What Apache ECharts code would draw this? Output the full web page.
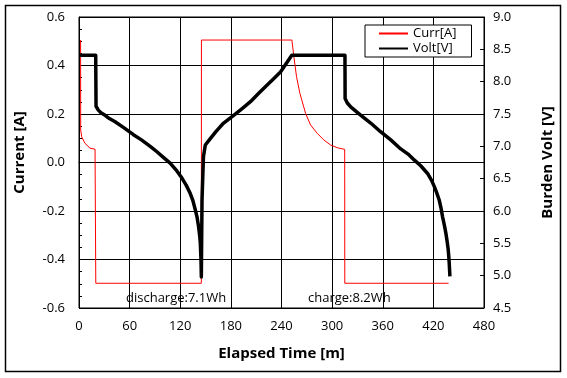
<!DOCTYPE html>
<html>
<head>
<meta charset="utf-8">
<script src="https://cdn.jsdelivr.net/npm/echarts@6/dist/echarts.min.js"></script>
<style>html,body{margin:0;padding:0;background:#fff}#c{width:567px;height:378px}</style>
</head>
<body>
<div id="c"></div>
<script>
// Current [A] series
var currTime = [1.9, 2.0, 3.2, 7.1, 13.1, 19.0, 19.8, 19.9, 145.0, 145.1, 252.3, 254.7, 257.8, 261.8, 268.5, 274.4, 282.4, 290.2, 298.2, 306.1, 314.9, 315.0, 438.0];
var currVals = [0.505, 0.134, 0.106, 0.079, 0.059, 0.055, 0.054, -0.498, -0.498, 0.505, 0.505, 0.436, 0.354, 0.285, 0.203, 0.155, 0.120, 0.093, 0.072, 0.061, 0.054, -0.498, -0.498];
// Burden Volt [V] series
var voltTime = [0, 19.8, 20.2, 21.0, 22.9, 26.0, 30.9, 36.0, 42.8, 53.0, 64.5, 74.0, 84.4, 92.0, 100.0, 108.0, 116.0, 122.0, 127.0, 131.9, 135.0, 137.8, 140.0, 141.7, 143.0, 143.8, 144.6, 145.0,
                145.8, 147.5, 149.7, 155.6, 163.0, 171.4, 183.3, 193.0, 203.2, 213.0, 223.0, 231.0, 238.8, 245.0, 252.2,
                315.2, 315.4, 318.0, 322.0, 333.0, 345.7, 357.0, 369.5, 381.3, 390.0, 397.2, 405.0, 413.1, 418.0, 421.0, 424.0, 426.9, 429.0, 430.9, 433.0, 434.9, 436.4, 437.6, 438.3, 438.8, 439.2, 439.6];
var voltVals = [8.41, 8.41, 7.62, 7.59, 7.56, 7.52, 7.48, 7.43, 7.38, 7.29, 7.18, 7.10, 7.00, 6.92, 6.83, 6.74, 6.62, 6.51, 6.40, 6.27, 6.16, 6.02, 5.90, 5.76, 5.62, 5.50, 5.24, 4.98,
                6.17, 6.84, 7.02, 7.12, 7.24, 7.36, 7.48, 7.58, 7.69, 7.82, 7.95, 8.05, 8.15, 8.27, 8.41,
                8.41, 7.74, 7.67, 7.61, 7.49, 7.36, 7.23, 7.10, 6.96, 6.88, 6.79, 6.70, 6.58, 6.47, 6.38, 6.28, 6.17, 6.05, 5.91, 5.78, 5.65, 5.52, 5.40, 5.29, 5.19, 5.09, 4.99];
var xTicks = {min: 0, max: 480, interval: 60};
var energyNotes = ['discharge:7.1Wh', 'charge:8.2Wh'];

function pairs(t, v) { return t.map(function (x, i) { return [x, v[i]]; }); }

var FONT = 'Open Sans';
var chart = echarts.init(document.getElementById('c'), null, {renderer: 'canvas'});
chart.setOption({
  animation: false,
  backgroundColor: '#fff',
  textStyle: {fontFamily: FONT},
  grid: {left: 79, right: 83, top: 17, bottom: 70, show: true, borderColor: '#000', borderWidth: 1, containLabel: false},
  legend: {
    orient: 'vertical', left: 365, top: 25,
    backgroundColor: '#fff', borderColor: '#000', borderWidth: 1,
    padding: [2, 15, 2, 13], itemWidth: 29, itemHeight: 10, itemGap: 2,
    itemStyle: {opacity: 0},
    textStyle: {fontFamily: FONT, fontSize: 13, color: '#000'},
    data: ['Curr[A]', 'Volt[V]']
  },
  xAxis: {
    type: 'value', min: xTicks.min, max: xTicks.max, interval: xTicks.interval,
    name: 'Elapsed Time [m]', nameLocation: 'middle', nameGap: 38,
    nameTextStyle: {fontFamily: FONT, fontSize: 15, fontWeight: 'bold', color: '#000'},
    axisLine: {lineStyle: {color: '#000', width: 1}},
    axisTick: {show: false},
    axisLabel: {fontFamily: FONT, fontSize: 13, color: '#000', margin: 12},
    splitLine: {show: true, lineStyle: {color: '#000', width: 1}}
  },
  yAxis: [{
    type: 'value', min: -0.6, max: 0.6, interval: 0.2,
    name: 'Current [A]', nameLocation: 'middle', nameGap: 52,
    nameTextStyle: {fontFamily: FONT, fontSize: 15, fontWeight: 'bold', color: '#000', padding: [0, 0, 0, 20]},
    axisLine: {show: true, lineStyle: {color: '#000', width: 1}},
    axisTick: {show: true, inside: true, length: 3, lineStyle: {color: '#000'}},
    minorTick: {show: true, splitNumber: 4, length: 3, lineStyle: {color: '#000'}},
    axisLabel: {fontFamily: FONT, fontSize: 13, color: '#000', margin: 14, formatter: function (v) { return v.toFixed(1); }},
    splitLine: {show: true, lineStyle: {color: '#000', width: 1}}
  }, {
    type: 'value', min: 4.5, max: 9.0, interval: 0.5, position: 'right',
    name: 'Burden Volt [V]', nameLocation: 'middle', nameGap: 56, nameRotate: 90,
    nameTextStyle: {fontFamily: FONT, fontSize: 15, fontWeight: 'bold', color: '#000'},
    axisLine: {show: true, lineStyle: {color: '#000', width: 1}},
    axisTick: {show: true, inside: true, length: 4, lineStyle: {color: '#000'}},
    axisLabel: {fontFamily: FONT, fontSize: 13, color: '#000', margin: 9, formatter: function (v) { return v.toFixed(1); }},
    splitLine: {show: false}
  }],
  series: [{
    name: 'Curr[A]', type: 'line', yAxisIndex: 0, symbol: 'none',
    lineStyle: {color: '#ff0000', width: 1}, itemStyle: {color: '#ff0000'},
    data: pairs(currTime, currVals), z: 2
  }, {
    name: 'Volt[V]', type: 'line', yAxisIndex: 1, symbol: 'none',
    lineStyle: {color: '#000', width: 3.5, join: 'round'}, itemStyle: {color: '#000'},
    data: pairs(voltTime, voltVals), z: 3
  }],
  graphic: [
    {type: 'rect', shape: {x: 5.5, y: 5.5, width: 555, height: 366}, style: {fill: null, stroke: '#000', lineWidth: 1.5}, silent: true, z: 100},
    {type: 'text', left: 126, top: 292, style: {text: energyNotes[0], fontFamily: FONT, fontSize: 13, fill: '#000'}, z: 50},
    {type: 'text', left: 308, top: 292, style: {text: energyNotes[1], fontFamily: FONT, fontSize: 13, fill: '#000'}, z: 50}
  ]
});
</script>
</body>
</html>
